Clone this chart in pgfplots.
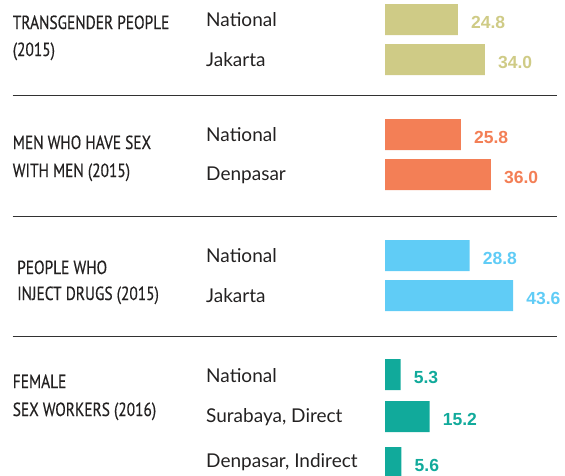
\documentclass[border=0pt]{standalone}
\usepackage{fontspec}
\usepackage{pgfplots}
\pgfplotsset{compat=1.18}
\setmainfont{Lato}
\newfontfamily\titlefont[FakeStretch=0.81,FakeBold=0.4]{PT Sans}
\newfontfamily\valfont{Liberation Sans}
\definecolor{tanc}{RGB}{207,203,134}
\definecolor{orangec}{RGB}{243,127,86}
\definecolor{bluec}{RGB}{96,204,246}
\definecolor{tealc}{RGB}{17,170,155}
\definecolor{textc}{RGB}{35,33,33}
\definecolor{linec}{RGB}{50,50,50}

\newcommand{\tfont}{\titlefont\fontsize{19}{22}\selectfont\color{textc}}
\newcommand{\sfont}{\fontsize{19}{22}\selectfont\color{textc}}

\begin{document}
\begin{tikzpicture}
\begin{axis}[
    scale only axis,
    width=565pt, height=475pt,
    xmin=-130.952, xmax=61.224,
    ymin=0, ymax=475, y dir=reverse,
    axis lines=none, xtick=\empty, ytick=\empty,
    xbar, bar width=31, bar shift=0pt,
    point meta=x,
    nodes near coords={\pgfmathprintnumber[fixed,fixed zerofill,precision=1,assume math mode=true]{\pgfplotspointmeta}},
    every node near coord/.append style={anchor=west, inner sep=0pt, xshift=13pt, yshift=-3pt,
        font=\valfont\bfseries\fontsize{17.5}{20}\selectfont},
]
% transgender people
\addplot[fill=tanc, draw=none, every node near coord/.append style={text=tanc}]
    coordinates {(24.8,19.5) (34.0,59.5)};
% men who have sex with men
\addplot[fill=orangec, draw=none, every node near coord/.append style={text=orangec}]
    coordinates {(25.8,134.5) (36.0,174.5)};
% people who inject drugs
\addplot[fill=bluec, draw=none, every node near coord/.append style={text=bluec}]
    coordinates {(28.8,255.5) (43.6,295.5)};
% female sex workers
\addplot[fill=tealc, draw=none, every node near coord/.append style={text=tealc}]
    coordinates {(5.3,374.5) (15.2,416.5) (5.6,462.5)};

% separators
\draw[line width=1.3pt, linec] (axis cs:-126.67,95.7) -- (axis cs:58.5,95.7);
\draw[line width=1.3pt, linec] (axis cs:-126.67,216.3) -- (axis cs:58.5,216.3);
\draw[line width=1.3pt, linec] (axis cs:-126.67,336.7) -- (axis cs:58.5,336.7);

% group titles
\node[anchor=base west, inner sep=0pt, font=\tfont] at (axis cs:-126.67,29) {TRANSGENDER PEOPLE};
\node[anchor=base west, inner sep=0pt, font=\tfont] at (axis cs:-126.67,56) {(2015)};
\node[anchor=base west, inner sep=0pt, font=\tfont] at (axis cs:-126.67,149) {MEN WHO HAVE SEX};
\node[anchor=base west, inner sep=0pt, font=\tfont] at (axis cs:-126.67,177) {WITH MEN (2015)};
\node[anchor=base west, inner sep=0pt, font=\tfont] at (axis cs:-125.17,274) {PEOPLE WHO};
\node[anchor=base west, inner sep=0pt, font=\tfont] at (axis cs:-125.17,300) {INJECT DRUGS (2015)};
\node[anchor=base west, inner sep=0pt, font=\tfont] at (axis cs:-126.67,388) {FEMALE};
\node[anchor=base west, inner sep=0pt, font=\tfont] at (axis cs:-126.67,416) {SEX WORKERS (2016)};

% sub labels
\node[anchor=base west, inner sep=0pt, font=\sfont] at (axis cs:-60.88,26) {National};
\node[anchor=base west, inner sep=0pt, font=\sfont] at (axis cs:-60.88,66) {Jakarta};
\node[anchor=base west, inner sep=0pt, font=\sfont] at (axis cs:-60.88,141) {National};
\node[anchor=base west, inner sep=0pt, font=\sfont] at (axis cs:-60.88,180) {Denpasar};
\node[anchor=base west, inner sep=0pt, font=\sfont] at (axis cs:-60.88,262) {National};
\node[anchor=base west, inner sep=0pt, font=\sfont] at (axis cs:-60.88,302) {Jakarta};
\node[anchor=base west, inner sep=0pt, font=\sfont] at (axis cs:-60.88,382) {National};
\node[anchor=base west, inner sep=0pt, font=\sfont] at (axis cs:-60.88,422) {Surabaya, Direct};
\node[anchor=base west, inner sep=0pt, font=\sfont] at (axis cs:-60.88,467) {Denpasar, Indirect};

\coordinate (sw) at (rel axis cs:0,0);
\coordinate (ne) at (rel axis cs:1,1);
\end{axis}
\pgfresetboundingbox
\path[use as bounding box] (sw) rectangle (ne);
\end{tikzpicture}
\end{document}
